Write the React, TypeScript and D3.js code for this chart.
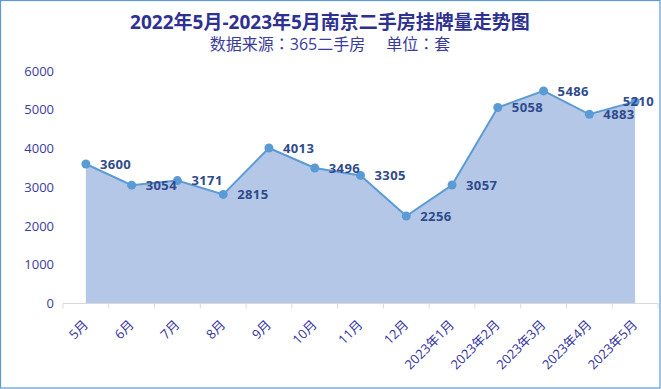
import * as d3 from 'd3';

const months = ['5月', '6月', '7月', '8月', '9月', '10月', '11月', '12月', '2023年1月', '2023年2月', '2023年3月', '2023年4月', '2023年5月'];
const listings = [3600, 3054, 3171, 2815, 4013, 3496, 3305, 2256, 3057, 5058, 5486, 4883, 5210];
const yTicks = [0, 1000, 2000, 3000, 4000, 5000, 6000];

const W = 661;
const H = 389;
const FONT = '"Open Sans", "Noto Sans CJK SC", sans-serif';
const COLON = '"Noto Sans CJK TC", sans-serif';

export default function App() {
  const x = d3.scalePoint<string>().domain(months).range([63, 658]).padding(0.5);
  const y = d3.scaleLinear().domain([0, 6000]).range([303.5, 71]);
  const step = x.step();

  const pts: [number, number][] = listings.map((v, i) => [x(months[i])!, y(v)]);
  const line = d3.line<[number, number]>()(pts) ?? '';
  const area = d3.area<[number, number]>().x((d) => d[0]).y0(y(0)).y1((d) => d[1])(pts) ?? '';

  const bounds = d3.range(months.length + 1).map((i) => 63 + i * step);

  return (
    <>
      <style>{'body{margin:0}'}</style>
      <svg width={W} height={H} style={{ display: 'block', fontFamily: FONT }}>
        <rect x={0.5} y={0.5} width={W - 1.5} height={H - 1.5} fill="#fff" stroke="#5B9BD5" strokeWidth={1.2} />

        <text x={330} y={29} textAnchor="middle" fontSize={19} fontWeight="bold" fill="#2E3192">
          2022年5月-2023年5月南京二手房挂牌量走势图
        </text>
        <text x={330} y={50} textAnchor="middle" fontSize={16} fill="#3B3B9B">
          <tspan>数据来源</tspan>
          <tspan fontFamily={COLON}>：</tspan>
          <tspan>365二手房</tspan>
          <tspan dx={21}>单位</tspan>
          <tspan fontFamily={COLON}>：</tspan>
          <tspan>套</tspan>
        </text>

        {yTicks.map((t) => (
          <text key={t} x={54} y={y(t)} dy="0.35em" textAnchor="end" fontSize={13} fill="#3B3B9B">
            {t}
          </text>
        ))}

        <path d={area} fill="#B4C7E7" />

        <line x1={63} x2={658} y1={y(0)} y2={y(0)} stroke="#D9D9D9" strokeWidth={1} />
        {bounds.map((bx, i) => (
          <line key={i} x1={bx} x2={bx} y1={y(0)} y2={y(0) + 5} stroke="#D9D9D9" strokeWidth={1} />
        ))}

        <path d={line} fill="none" stroke="#5B9BD5" strokeWidth={2} />
        {pts.map(([px, py], i) => (
          <circle key={i} cx={px} cy={py} r={4.5} fill="#5B9BD5" />
        ))}

        {pts.map(([px, py], i) => {
          // the last label would run past the frame, so it sits against the right edge
          const atEdge = px + 14 + 34 > W - 6;
          return (
            <text key={i} x={atEdge ? W - 7 : px + 14} y={py} dy="0.36em" textAnchor={atEdge ? 'end' : 'start'}
              fontSize={13} fontWeight="bold" fill="#2F4B8C" letterSpacing={0.4}>
              {listings[i]}
            </text>
          );
        })}

        {months.map((m) => {
          const px = x(m)! + 3;
          const py = y(0) + 22;
          return (
            <text key={m} x={px} y={py} textAnchor="end" fontSize={13} fill="#3333A0" transform={`rotate(-45 ${px} ${py})`}>
              {m}
            </text>
          );
        })}
      </svg>
    </>
  );
}
